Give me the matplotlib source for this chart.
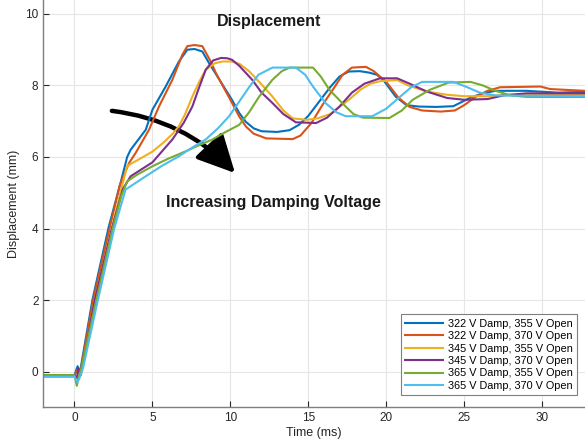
import matplotlib
matplotlib.use("Agg")
import matplotlib.pyplot as plt
from matplotlib.patches import FancyArrowPatch

plt.rcParams['font.family'] = ['Liberation Sans', 'DejaVu Sans']

labels = ['322 V Damp, 355 V Open', '322 V Damp, 370 V Open',
          '345 V Damp, 355 V Open', '345 V Damp, 370 V Open',
          '365 V Damp, 355 V Open', '365 V Damp, 370 V Open']
colors = ['#0072BD', '#D95319', '#EDB120', '#7E2F8E', '#77AC30', '#4DBEEE']

# 322 V damp, 355 V open
t_a = [-2, 0.0, 0.2, 0.3, 0.4, 1.15, 2.2, 3.0, 3.38, 3.6, 4.57, 5.0, 5.85, 6.7, 7.24, 7.7, 8.2,
       8.64, 9.1, 9.6, 10.1, 10.57, 11.0, 11.5, 12.0, 13.0, 13.8, 14.4, 15.0, 15.7, 16.4, 17.0,
       17.6, 18.3, 18.9, 19.4, 19.8, 20.6, 21.3, 22.1, 23.2, 24.3, 24.9, 25.4, 26.2, 27.0, 29.0,
       31.0, 32.75]
d_a = [-0.1, -0.1, 0.15, -0.05, 0.1, 2.0, 4.05, 5.35, 6.0, 6.2, 6.76, 7.32, 7.97, 8.67, 9.0,
       9.02, 8.95, 8.62, 8.3, 7.95, 7.6, 7.23, 6.98, 6.8, 6.72, 6.7, 6.75, 6.9, 7.15, 7.55, 7.95,
       8.25, 8.39, 8.4, 8.36, 8.3, 8.16, 7.69, 7.45, 7.41, 7.4, 7.42, 7.55, 7.66, 7.78, 7.85,
       7.85, 7.8, 7.82]

# 322 V damp, 370 V open
t_b = [-2, 0.0, 0.2, 0.35, 1.2, 2.25, 2.9, 3.5, 3.92, 4.78, 5.42, 6.28, 6.92, 7.24, 7.7, 8.2,
       8.74, 9.07, 9.5, 10.0, 10.57, 11.0, 11.5, 12.3, 14.0, 14.5, 15.2, 15.9, 16.6, 17.2, 17.8,
       18.7, 19.2, 20.0, 20.8, 21.5, 22.3, 23.5, 24.4, 25.0, 25.8, 26.5, 27.3, 29.9, 30.5, 32.75]
d_b = [-0.1, -0.1, 0.05, -0.1, 2.0, 4.0, 5.2, 5.83, 6.11, 6.76, 7.41, 8.16, 8.86, 9.1, 9.13,
       9.1, 8.67, 8.35, 8.0, 7.6, 7.13, 6.85, 6.65, 6.52, 6.5, 6.6, 6.95, 7.45, 7.9, 8.3, 8.5,
       8.52, 8.4, 8.1, 7.65, 7.4, 7.3, 7.27, 7.3, 7.45, 7.7, 7.85, 7.95, 7.97, 7.9, 7.85]

# 345 V damp, 355 V open
t_c = [-2, 0.0, 0.2, 0.4, 1.3, 2.4, 3.0, 3.38, 4.2, 5.0, 5.7, 6.3, 6.7, 7.1, 7.56, 8.0, 8.42,
       9.0, 9.5, 10.1, 10.6, 11.2, 11.85, 12.7, 13.4, 14.0, 14.9, 15.6, 16.4, 17.0, 17.6, 18.4,
       19.0, 19.6, 20.7, 21.4, 22.6, 23.9, 25.0, 26.5, 28.0, 32.75]
d_c = [-0.12, -0.12, -0.15, -0.1, 2.0, 4.0, 5.1, 5.75, 5.95, 6.15, 6.4, 6.65, 6.86, 7.2, 7.69,
       8.1, 8.44, 8.62, 8.67, 8.67, 8.6, 8.4, 8.1, 7.69, 7.3, 7.08, 7.04, 7.08, 7.2, 7.4, 7.6,
       7.9, 8.05, 8.12, 8.15, 8.0, 7.83, 7.74, 7.7, 7.7, 7.75, 7.75]

# 345 V damp, 370 V open
t_d = [-2, 0.0, 0.15, 0.25, 0.4, 1.3, 2.4, 3.1, 3.6, 5.0, 6.28, 7.0, 7.56, 8.0, 8.42, 8.9, 9.4,
       9.8, 10.1, 10.57, 11.4, 12.0, 12.7, 13.4, 14.2, 15.5, 16.2, 17.0, 17.8, 18.6, 19.6, 20.7,
       21.5, 22.6, 23.9, 25.0, 26.5, 27.5, 29.0, 32.75]
d_d = [-0.1, -0.1, -0.2, 0.1, -0.1, 2.0, 4.0, 5.1, 5.46, 5.85, 6.49, 6.95, 7.41, 7.95, 8.44,
       8.7, 8.77, 8.76, 8.72, 8.55, 8.16, 7.8, 7.51, 7.2, 6.97, 6.95, 7.1, 7.41, 7.8, 8.05, 8.2,
       8.2, 8.05, 7.83, 7.65, 7.6, 7.62, 7.72, 7.78, 7.78]

# 365 V damp, 355 V open
t_e = [-2, 0.0, 0.15, 0.3, 0.45, 1.4, 2.45, 3.0, 3.38, 4.0, 5.0, 6.0, 7.14, 8.0, 8.85, 9.7,
       10.57, 11.2, 11.85, 12.7, 13.3, 13.8, 15.3, 15.8, 16.35, 17.4, 17.9, 18.5, 20.2, 21.0,
       21.7, 22.8, 24.0, 25.4, 26.2, 27.0, 28.0, 29.0, 32.75]
d_e = [-0.1, -0.1, -0.4, -0.1, 0.1, 2.0, 4.0, 4.9, 5.32, 5.5, 5.74, 5.95, 6.16, 6.33, 6.49, 6.7,
       6.9, 7.25, 7.69, 8.16, 8.4, 8.5, 8.5, 8.25, 7.88, 7.41, 7.2, 7.1, 7.09, 7.3, 7.6, 7.88,
       8.08, 8.1, 8.0, 7.85, 7.72, 7.68, 7.68]

# 365 V damp, 370 V open
t_f = [-2, 0.0, 0.2, 0.35, 0.55, 1.5, 2.55, 3.28, 4.57, 5.6, 6.7, 7.5, 8.42, 9.2, 9.92, 10.57,
       11.2, 11.8, 12.7, 14.2, 14.8, 15.3, 16.1, 16.8, 17.4, 19.1, 20.0, 20.9, 21.6, 22.3, 24.3,
       25.2, 26.0, 27.0, 32.75]
d_f = [-0.15, -0.15, -0.3, -0.15, 0.1, 2.0, 4.0, 5.09, 5.46, 5.75, 6.02, 6.25, 6.49, 6.8, 7.14,
       7.55, 7.95, 8.3, 8.5, 8.5, 8.3, 7.97, 7.51, 7.25, 7.14, 7.14, 7.35, 7.69, 7.95, 8.1, 8.1,
       7.95, 7.8, 7.72, 7.7]

series = [(t_a, d_a), (t_b, d_b), (t_c, d_c), (t_d, d_d), (t_e, d_e), (t_f, d_f)]

fig = plt.figure(figsize=(5.85, 4.42), dpi=100)
ax = fig.add_axes([43.3 / 585, 34.7 / 442, 1 - 43.3 / 585, 407.3 / 442])

for (t, d), c, lab in zip(series, colors, labels):
    ax.plot(t, d, color=c, lw=1.5, label=lab)

ax.set_xlim(-2, 32.75)
ax.set_ylim(-1, 10.39)
ax.set_xticks(range(0, 31, 5))
ax.set_yticks(range(0, 11, 2))
ax.grid(True, color='#e6e6e6', lw=0.8)
ax.set_axisbelow(True)
ax.tick_params(direction='in', length=4, labelsize=8.5, colors='#262626')
for s in ['top', 'right']:
    ax.spines[s].set_visible(False)
for s in ['left', 'bottom']:
    ax.spines[s].set_color('#7f7f7f')
    ax.spines[s].set_linewidth(1.0)

ax.set_xlabel('Time (ms)', fontsize=9, color='#262626', labelpad=2)
ax.set_ylabel('Displacement (mm)', fontsize=9, color='#262626', labelpad=4)

ax.text(12.5, 9.79, 'Displacement', fontsize=11.5, fontweight='bold',
        ha='center', va='center', color='#1a1a1a')
ax.text(12.75, 4.72, 'Increasing Damping Voltage', fontsize=11.5, fontweight='bold',
        ha='center', va='center', color='#1a1a1a')

arrow = FancyArrowPatch((2.4, 7.29), (10.3, 5.55), connectionstyle='arc3,rad=-0.18',
                        arrowstyle='-|>,head_length=1.0,head_width=0.5',
                        mutation_scale=23, lw=3.2, color='black',
                        shrinkA=0, shrinkB=0)
ax.add_patch(arrow)

leg = ax.legend(loc='lower right', bbox_to_anchor=(0.985, 0.03), borderaxespad=0,
                fontsize=7.8, handlelength=3.5, handletextpad=0.4, labelspacing=0.22,
                borderpad=0.4, fancybox=False, framealpha=1)
leg.get_frame().set_edgecolor('#7f7f7f')
leg.get_frame().set_linewidth(0.8)

fig.savefig('out.png', dpi=100)
